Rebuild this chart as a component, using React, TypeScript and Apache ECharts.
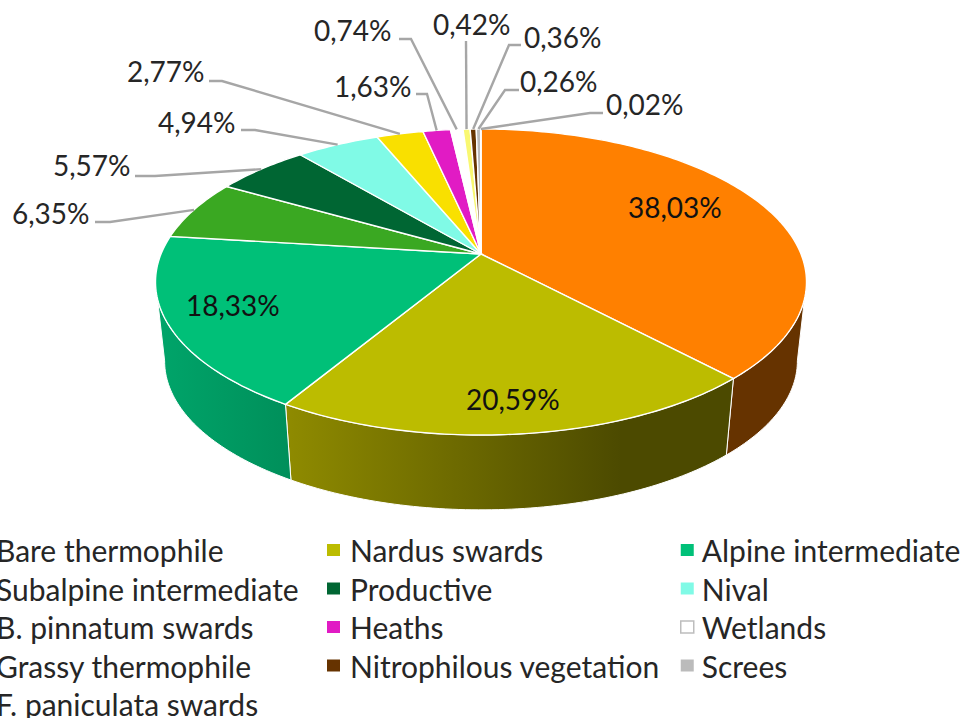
import React, { useEffect, useRef } from "react";
import * as echarts from "echarts";

const names = ["Bare thermophile","Nardus swards","Alpine intermediate","Subalpine intermediate","Productive","Nival","B. pinnatum swards","Heaths","Wetlands","Grassy thermophile","Nitrophilous vegetation","Screes","F. paniculata swards"];
const shares = [38.03,20.59,18.33,6.35,5.57,4.94,2.77,1.63,0.74,0.42,0.36,0.26,0.02];
const colors = ["#ff8000","#bcbc00","#00c078","#3aa822","#006633","#80fae6","#f9e000","#e11bc4","#ffffff","#f9f871","#663300","#bbbbbb","#dddddd"];

// Label placement: text left edge / vertical middle, then leader-line knee points
const labelLayout: { x: number; y: number; knees: number[][] }[] = [
  { x: 628, y: 207, knees: [] },
  { x: 466, y: 399, knees: [] },
  { x: 186, y: 305, knees: [] },
  { x: 12, y: 213, knees: [[95, 222], [110, 222]] },
  { x: 53, y: 165, knees: [[135, 176], [155, 176]] },
  { x: 158, y: 122, knees: [[241, 130], [255, 130]] },
  { x: 127, y: 71, knees: [[209, 81], [222, 81]] },
  { x: 334, y: 86, knees: [[416, 94], [427, 94]] },
  { x: 314, y: 30, knees: [[399, 39], [411, 39]] },
  { x: 433, y: 24, knees: [[466, 41]] },
  { x: 524, y: 37, knees: [[521, 45], [509, 45]] },
  { x: 520, y: 81, knees: [[519, 90], [505, 90]] },
  { x: 606, y: 104, knees: [[603, 113], [590, 113]] },
];

const FONT = "Lato";
const LABEL_SIZE = 28;
const LEGEND_SIZE = 30;

// projective model of the tilted disc
const CX = 481, CY = 254, A = 320, B = 147.9, K = 0.183;
const DROP_S = 0.972, DROP_Y = 87;
// fractions of the turn where the disc's silhouette is tangent to the side wall
const WALL_FROM = 0.279, WALL_TO = 0.721;
const project = (frac: number) => {
  const t = frac * Math.PI * 2;
  const X = Math.sin(t), Y = -Math.cos(t), w = 1 - K * Y;
  return [CX + (A * X) / w, CY + (B * Y) / w];
};
const lower = (p: number[]) => [CX + DROP_S * (p[0] - CX), DROP_Y + DROP_S * p[1]];

const starts: number[] = [];
shares.reduce((acc, v, i) => ((starts[i] = acc), acc + v), 0);
const total = shares.reduce((a, b) => a + b, 0);
const rim = (from: number, to: number) => {
  const out: number[][] = [];
  const n = Math.max(2, Math.ceil((to - from) * 360));
  for (let i = 0; i <= n; i++) out.push(project(from + ((to - from) * i) / n));
  return out;
};

const wallFill = (i: number) => {
  if (i === 1)
    return new echarts.graphic.LinearGradient(0, 0, 1, 0, [
      { offset: 0, color: "#8f8b00" },
      { offset: 0.75, color: "#4c4a00" },
      { offset: 1, color: "#4c4a00" },
    ]);
  if (i === 2)
    return new echarts.graphic.LinearGradient(0, 0, 1, 0, [
      { offset: 0, color: "#00a56a" },
      { offset: 1, color: "#008f5a" },
    ]);
  return "#663300";
};

const renderWall = (params: any, api: any) => {
  const i = params.dataIndex;
  const from = Math.max(starts[i] / total, WALL_FROM);
  const to = Math.min((starts[i] + api.value(0)) / total, WALL_TO);
  if (to <= from) return { type: "group", children: [] };
  const top = rim(from, to);
  const pts = [...top, ...top.map(lower).reverse()];
  return {
    type: "polygon",
    z2: 0,
    shape: { points: pts },
    style: { fill: wallFill(i), stroke: "#ffffff", lineWidth: 1 },
  };
};

const renderTop = (params: any, api: any) => {
  const i = params.seriesIndex - 1;
  const from = starts[i] / total;
  const to = (starts[i] + api.value(0)) / total;
  const pts = [[CX, CY], ...rim(from, to)];
  const lay = labelLayout[i];
  const children: any[] = [
    { type: "polygon", z2: 1, shape: { points: pts }, style: { fill: colors[i], stroke: "#ffffff", lineWidth: 1.4 } },
  ];
  if (lay.knees.length) {
    const mid = project((from + to) / 2);
    children.push({
      type: "polyline",
      z2: 5,
      shape: { points: [...lay.knees, mid] },
      style: { fill: "none", stroke: "#a6a6a6", lineWidth: 2.4 },
    });
  }
  children.push({
    type: "text",
    z2: 6,
    style: {
      text: api.value(0).toFixed(2).replace(".", ",") + "%",
      x: lay.x,
      y: lay.y,
      fill: i < 3 ? "#111111" : "#262626",
      fontFamily: FONT,
      fontSize: LABEL_SIZE,
      textAlign: "left",
      textVerticalAlign: "middle",
    },
  });
  return { type: "group", children };
};

const legendColumn = (ids: number[], left: number, textGap: number) => ({
  orient: "vertical" as const,
  left,
  top: 535,
  height: 300,
  padding: 0,
  itemGap: 8.5,
  itemWidth: 13,
  itemHeight: 12,
  icon: "rect",
  selectedMode: false,
  textStyle: { fontFamily: FONT, fontSize: LEGEND_SIZE, lineHeight: 30, color: "#262626", padding: [0, 0, 0, textGap] },
  data: ids.map((k) => ({
    name: names[k],
    itemStyle: k === 8 ? { color: "#ffffff", borderColor: "#bdbdbd", borderWidth: 1.5 } : { color: colors[k] },
  })),
});

export default function App() {
  const ref = useRef<HTMLDivElement>(null);
  useEffect(() => {
    document.body.style.margin = "0";
    const chart = echarts.init(ref.current!, undefined, { renderer: "svg" });
    chart.setOption({
      animation: false,
      backgroundColor: "#ffffff",
      legend: [
        legendColumn([0, 3, 6, 9, 12], -27, 5),
        legendColumn([1, 4, 7, 10], 327, 5),
        legendColumn([2, 5, 8, 11], 680, 3),
      ],
      series: [
        {
          type: "custom",
          name: "sides",
          coordinateSystem: "none",
          silent: true,
          z: 1,
          renderItem: renderWall,
          data: shares.map((v) => [v]),
        },
        ...names.map((name, i) => ({
          type: "custom",
          name,
          coordinateSystem: "none",
          silent: true,
          z: 2,
          itemStyle: { color: colors[i] },
          renderItem: renderTop,
          data: [[shares[i]]],
        })),
      ],
    });
    return () => chart.dispose();
  }, []);
  return <div ref={ref} style={{ position: "absolute", left: 0, top: 0, width: 962, height: 718, overflow: "hidden" }} />;
}
